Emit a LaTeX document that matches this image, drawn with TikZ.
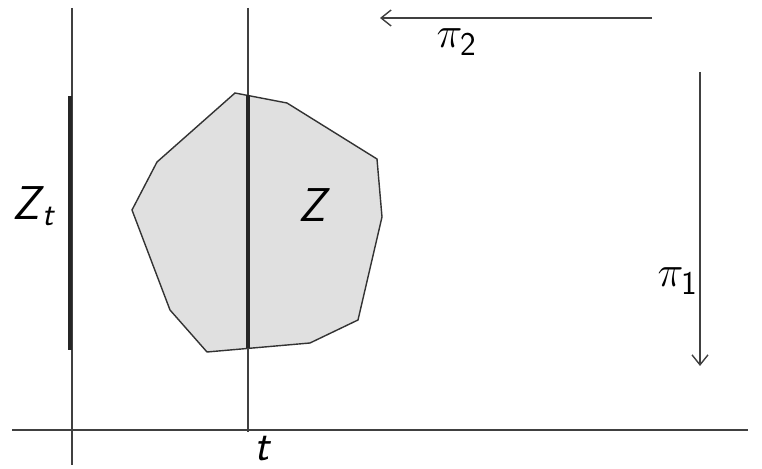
\documentclass[tikz,border=0pt]{standalone}
\usepackage{amsmath,amssymb}
\usepackage{tikz}
\usetikzlibrary{arrows.meta}
\newcommand{\sfit}[1]{\textsf{\itshape #1}}
\tikzset{thin line/.style={line width=0.8pt,black!75},
fat line/.style={line width=2.4pt,black!85},
proj/.style={thin line,-{Straight Barb[length=2mm,width=3.2mm]}},
lab/.style={font=\fontsize{27}{30}\selectfont,inner sep=0pt}}
\begin{document}
\begin{tikzpicture}[x=0.02cm,y=-0.02cm]
\useasboundingbox(0,0)rectangle(762,469);
\fill[black!12](235,93)--(287,103)--(377,159)--(382,217)--(358,320)--(310,343)--(207,352)--(170,310)--(132,210)--(157,162)--cycle;
\draw[thin line,black!80](235,93)--(287,103)--(377,159)--(382,217)--(358,320)--(310,343)--(207,352)--(170,310)--(132,210)--(157,162)--cycle;
\coordinate(x0)at(12,430);
\coordinate(x1)at(748,430);
\coordinate(l0)at(72,8);
\coordinate(l1)at(72,465);
\coordinate(t0)at(248,8);
\coordinate(t1)at(248,432);
\draw[thin line](x0)--(x1);
\draw[thin line](l0)--(l1);
\draw[thin line](t0)--(t1);
\draw[fat line](70,96)--(70,350);
\draw[fat line](248,95)--(248,348);
\coordinate(p2a)at(652,18);
\coordinate(p2b)at(380,18);
\coordinate(p1a)at(700,72);
\coordinate(p1b)at(700,366);
\draw[proj](p2a)--(p2b);
\draw[proj](p1a)--(p1b);
\node[lab](zt)at(34,206){\sfit{Z}\kern-1pt$_{\sfit{t}}$};
\node[lab](z)at(314,205){\sfit{Z}};
\node[lab,font=\fontsize{25}{28}\selectfont](t)at(263,449){\sfit{t}};
\node[lab](pi2)at(457,42){$\pi_{\textsf{2}}$};
\node[lab](pi1)at(678,281){$\pi_{\textsf{1}}$};
\end{tikzpicture}
\end{document}
